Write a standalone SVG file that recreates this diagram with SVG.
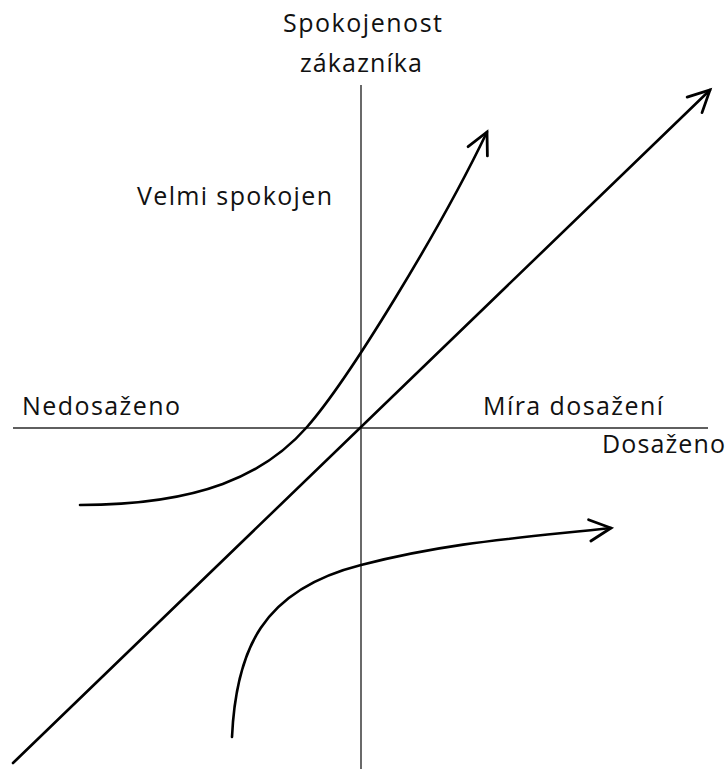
<svg xmlns="http://www.w3.org/2000/svg" width="728" height="769" viewBox="0 0 728 769">
<style>
.axis{stroke:#2a2a2a;stroke-width:1.4;fill:none}
.curve{stroke:#000;stroke-width:2.6;fill:none;stroke-linecap:round;marker-end:url(#arr)}
.lbl{font-family:"Open Sans","Liberation Sans",sans-serif;font-size:25px;fill:#111}
</style>
<defs>
<marker id="arr" markerUnits="userSpaceOnUse" markerWidth="30" markerHeight="30" viewBox="-24 -14 28 28" refX="0" refY="0" orient="auto">
<path d="M-20,-10 L0,0 L-20,10" fill="none" stroke="#000" stroke-width="2.6" stroke-linecap="round" stroke-linejoin="miter"/>
</marker>
</defs>
<rect width="728" height="769" fill="#fff"/>
<g id="axes">
<line id="y-axis" class="axis" x1="361" y1="85" x2="361" y2="769"/>
<line id="x-axis" class="axis" x1="13" y1="428" x2="708" y2="428"/>
</g>
<g id="connectors">
<path id="diagonal" class="curve" d="M13,763 L710,90"/>
<path id="upper-curve" class="curve" d="M80,505 C200,505 265,475 307,427 S440,230 487,132"/>
<path id="lower-curve" class="curve" d="M232,737 C236,650 262,590 361,565 C450,542 520,538 611,528"/>
</g>
<g id="labels">
<text class="lbl" x="283" y="32" textLength="159">Spokojenost</text>
<text class="lbl" x="300" y="72" textLength="122">zákazníka</text>
<text class="lbl" x="137" y="205" textLength="195">Velmi spokojen</text>
<text class="lbl" x="22" y="415" textLength="158">Nedosaženo</text>
<text class="lbl" x="483" y="415" textLength="180">Míra dosažení</text>
<text class="lbl" x="602" y="453" textLength="123">Dosaženo</text>
</g>
</svg>
